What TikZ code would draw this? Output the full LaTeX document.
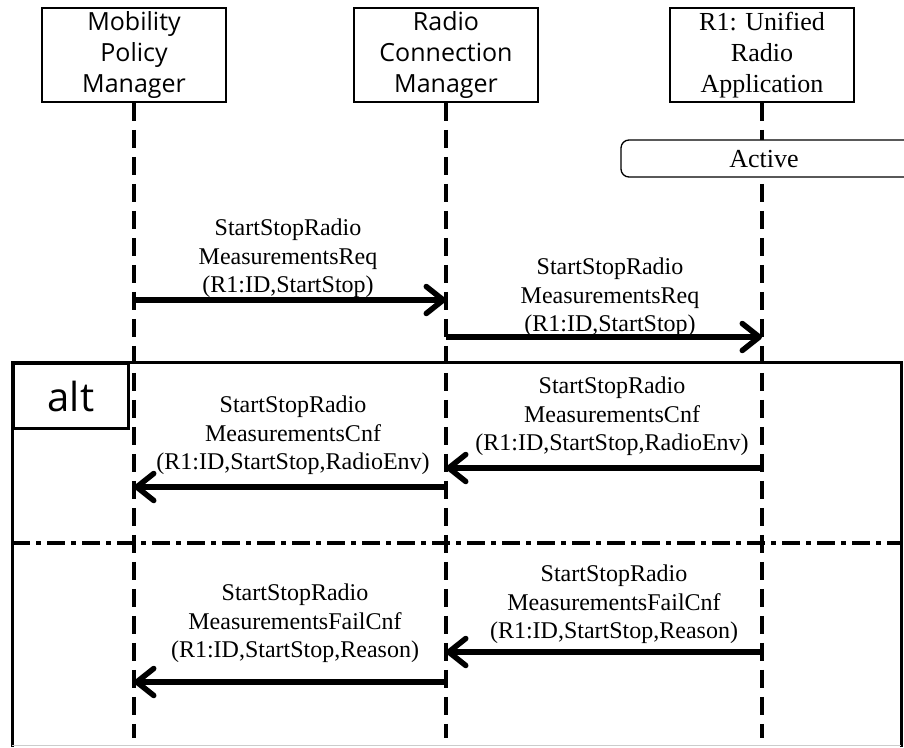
\documentclass[tikz,border=0pt]{standalone}
\usepackage{fontspec}
\setmainfont{Liberation Serif}
\newfontfamily\guifont{Open Sans}
\usetikzlibrary{arrows.meta,positioning}

\tikzset{
  actor/.style={draw, line width=1.6pt, minimum width=184pt, minimum height=94pt,
    inner sep=0pt, align=center, font=\guifont\fontsize{25}{31}\selectfont},
  lifeline/.style={line width=4.5pt, dash pattern=on 18pt off 9pt},
  msg/.style={line width=5.5pt, -{Straight Barb[length=17pt,width=27pt,round]}},
  msgtext/.style={anchor=north, inner sep=0pt, align=center,
    font=\fontsize{24}{28.5}\selectfont},
  frame/.style={line width=3pt},
}

\begin{document}
\begin{tikzpicture}[x=1pt,y=-1pt]
  \useasboundingbox (0,0) rectangle (904,747);

  % Marco alt
  \draw[frame] (12,747) -- (12,362) -- (901,362) -- (901,747);
  \draw[gray!40, line width=1pt] (12,745) -- (901,745);
  \node[frame, draw, minimum width=115pt, minimum height=65pt, anchor=north west,
    font=\guifont\fontsize{40}{40}\selectfont] (alt) at (12,362) {alt};
  \draw[frame, line width=3.5pt, dash pattern=on 18pt off 6pt on 5pt off 6pt]
    (12,543) -- (901,543);

  % Participantes
  \node[actor] (mpm) at (134,55) {Mobility\\Policy\\Manager};
  \node[actor] (rcm) at (446,55) {Radio\\Connection\\Manager};
  \node[actor, font=\fontsize{26}{31}\selectfont] (ura) at (762,55)
    {R1: Unified\\Radio\\Application};

  % Lineas de vida
  \coordinate (mpm-end) at (134,738);
  \coordinate (rcm-end) at (446,738);
  \coordinate (ura-end) at (762,738);
  \draw[lifeline] (mpm.south) -- (mpm-end);
  \draw[lifeline] (rcm.south) -- (rcm-end);
  \draw[lifeline] (ura.south) -- (ura-end);

  % Estado
  \draw[fill=white, line width=1.3pt, rounded corners=8pt] (621,140) rectangle (930,177);
  \node[font=\fontsize{26}{26}\selectfont] (active) at (764,159) {Active};

  % Mensajes
  \coordinate (m1a) at (134,300); \coordinate (m1b) at (446,300);
  \coordinate (m2a) at (446,337); \coordinate (m2b) at (762,337);
  \coordinate (m3a) at (762,468); \coordinate (m3b) at (446,468);
  \coordinate (m4a) at (446,487); \coordinate (m4b) at (134,487);
  \coordinate (m5a) at (762,652); \coordinate (m5b) at (446,652);
  \coordinate (m6a) at (446,682); \coordinate (m6b) at (134,682);

  \draw[msg] (m1a) -- (m1b);
  \draw[msg] (m2a) -- (m2b);
  \draw[msg] (m3a) -- (m3b);
  \draw[msg] (m4a) -- (m4b);
  \draw[msg] (m5a) -- (m5b);
  \draw[msg] (m6a) -- (m6b);

  \node[msgtext] (t1) at (288,219) {StartStopRadio\\MeasurementsReq\\(R1:ID,StartStop)};
  \node[msgtext] (t2) at (610,258) {StartStopRadio\\MeasurementsReq\\(R1:ID,StartStop)};
  \node[msgtext] (t3) at (612,377) {StartStopRadio\\MeasurementsCnf\\(R1:ID,StartStop,RadioEnv)};
  \node[msgtext] (t4) at (293,396) {StartStopRadio\\MeasurementsCnf\\(R1:ID,StartStop,RadioEnv)};
  \node[msgtext] (t5) at (614,565) {StartStopRadio\\MeasurementsFailCnf\\(R1:ID,StartStop,Reason)};
  \node[msgtext] (t6) at (295,584) {StartStopRadio\\MeasurementsFailCnf\\(R1:ID,StartStop,Reason)};
\end{tikzpicture}
\end{document}
